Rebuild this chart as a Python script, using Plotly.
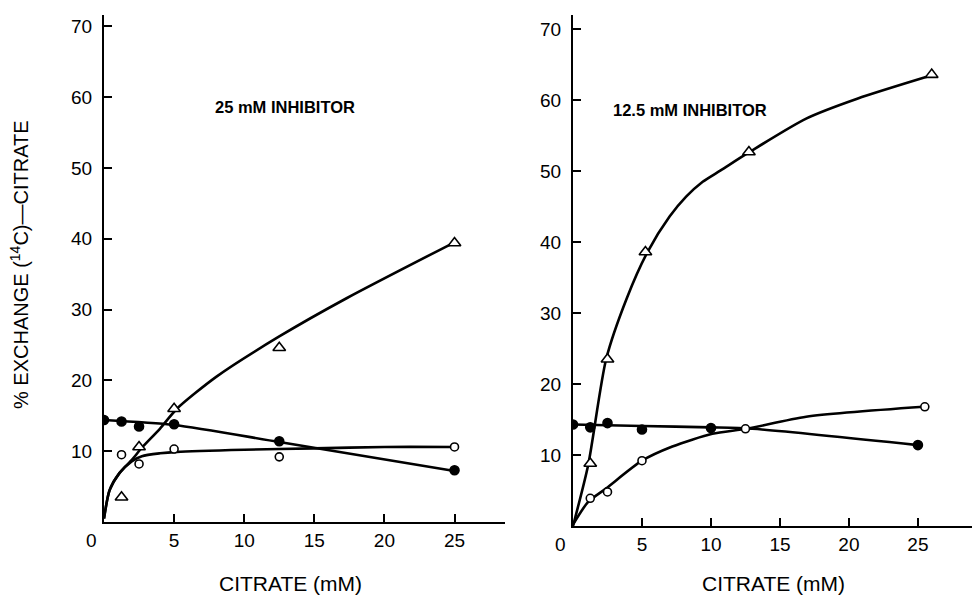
import plotly.graph_objects as go

# ---------------- data ----------------
# Left panel: 25 mM inhibitor
L_tri_x = [1.25, 2.5, 5, 12.5, 25]
L_tri_y = [3.5, 10.6, 16.0, 24.6, 39.4]
L_fill_x = [0, 1.25, 2.5, 5, 12.5, 25]
L_fill_y = [14.4, 14.2, 13.5, 13.8, 11.4, 7.3]
L_open_x = [1.25, 2.5, 5, 12.5, 25]
L_open_y = [9.5, 8.2, 10.3, 9.2, 10.6]
# fitted curves (as drawn)
L_tri_cx = [0, 0.4, 1.1, 2.0, 2.7, 4.0, 5.2, 8, 12.5, 17.3, 25]
L_tri_cy = [0.5, 4.5, 6.9, 8.8, 10.5, 13.2, 16.0, 20.5, 26.2, 31.6, 39.5]
L_open_cx = [0, 0.4, 1.1, 2.0, 2.7, 4.0, 5.2, 10, 15, 20, 25]
L_open_cy = [0.5, 4.5, 6.9, 8.6, 9.3, 9.7, 9.9, 10.2, 10.4, 10.6, 10.6]
L_fill_cx = [0, 5, 12.5, 25]
L_fill_cy = [14.4, 13.7, 11.3, 7.2]

# Right panel: 12.5 mM inhibitor
R_tri_x = [1.25, 2.5, 5.25, 12.75, 26]
R_tri_y = [8.8, 23.5, 38.6, 52.7, 63.6]
R_fill_x = [0, 1.25, 2.5, 5, 10, 25]
R_fill_y = [14.3, 13.9, 14.5, 13.6, 13.8, 11.4]
R_open_x = [1.25, 2.5, 5, 12.5, 25.5]
R_open_y = [3.9, 4.8, 9.2, 13.7, 16.8]
R_tri_cx = [0, 1.1, 2.4, 3.9, 5.4, 7.0, 8.2, 9.4, 10.7, 12.8, 16.9, 20.6, 26]
R_tri_cy = [0, 8.6, 23.5, 32.1, 38.6, 43.6, 46.4, 48.5, 50.1, 52.7, 57.4, 60.2, 63.5]
R_open_cx = [0, 1.1, 2.4, 5, 7.2, 10.1, 12.6, 16.9, 25.4]
R_open_cy = [0.2, 3.4, 5.3, 9.2, 11.2, 13.0, 13.7, 15.4, 16.8]
R_fill_cx = [0, 5, 10, 13, 25]
R_fill_cy = [14.3, 14.1, 13.9, 13.7, 11.4]

x_ticks = [5, 10, 15, 20, 25]
y_ticks = [10, 20, 30, 40, 50, 60, 70]
x_title = "CITRATE (mM)"
y_title = "% EXCHANGE (<sup>14</sup>C)—CITRATE"
panel_labels = ["25 mM INHIBITOR", "12.5 mM INHIBITOR"]

# ---------------- figure ----------------
fig = go.Figure()
FONT = "Liberation Sans, Arial, sans-serif"
LW = 2.6


def add_panel(xa, ya, curves, markers):
    for cx, cy in curves:
        fig.add_trace(go.Scatter(x=cx, y=cy, mode="lines", xaxis=xa, yaxis=ya,
                                 line=dict(color="black", width=LW, shape="spline", smoothing=0.7),
                                 hoverinfo="skip", showlegend=False))
    for mx, my, sym, size, filled in markers:
        fig.add_trace(go.Scatter(x=mx, y=my, mode="markers", xaxis=xa, yaxis=ya,
                                 marker=dict(symbol=sym, size=size,
                                             color="black" if filled else "white",
                                             line=dict(color="black", width=1.6)),
                                 showlegend=False))


add_panel("x", "y",
          [(L_tri_cx, L_tri_cy), (L_open_cx, L_open_cy), (L_fill_cx, L_fill_cy)],
          [(L_tri_x, L_tri_y, "triangle-up", 11, False),
           (L_open_x, L_open_y, "circle", 8, False),
           (L_fill_x, L_fill_y, "circle", 9, True)])
add_panel("x2", "y2",
          [(R_tri_cx, R_tri_cy), (R_open_cx, R_open_cy), (R_fill_cx, R_fill_cy)],
          [(R_tri_x, R_tri_y, "triangle-up", 11, False),
           (R_open_x, R_open_y, "circle", 8, False),
           (R_fill_x, R_fill_y, "circle", 9, True)])

# page body has an 8px margin: work in page pixels and shift by OFF
OFF = 8
W, H = 980 - OFF, 596 - OFF


def px(v):
    return (v - OFF) / W


def py(v):
    return 1 - (v - OFF) / H


axis_common = dict(showline=True, linecolor="black", linewidth=2, ticks="inside",
                   ticklen=8, tickwidth=1.5, tickcolor="black", showgrid=False,
                   zeroline=False, tickfont=dict(family=FONT, size=19, color="black"),
                   fixedrange=True)

fig.update_layout(
    width=W, height=H, margin=dict(l=0, r=0, t=0, b=0),
    paper_bgcolor="white", plot_bgcolor="white",
    font=dict(family=FONT, size=18, color="black"),
    xaxis=dict(axis_common, domain=[px(104), px(505)], range=[0, 28.6],
               tickvals=x_ticks, anchor="y"),
    yaxis=dict(axis_common, domain=[py(522), py(15)], range=[0, 71.6],
               tickvals=y_ticks, anchor="x", ticklabelstandoff=6),
    xaxis2=dict(axis_common, domain=[px(573), 1.0], range=[0, 29.5],
                tickvals=x_ticks, anchor="y2"),
    yaxis2=dict(axis_common, domain=[py(526), py(15)], range=[0, 72],
                tickvals=y_ticks, anchor="x2", ticklabelstandoff=6),
)

ann = []
# corner zeros
for xr, yr in (("x", "y"), ("x2", "y2")):
    ann.append(dict(text="0", x=0, y=0, xref=xr, yref=yr, showarrow=False,
                    xanchor="right", yanchor="top", xshift=-5, yshift=-6,
                    font=dict(family=FONT, size=19)))
# panel labels
ann.append(dict(text="<b>" + panel_labels[0] + "</b>", x=12.9, y=58.6, xref="x", yref="y",
                showarrow=False, xanchor="center", yanchor="middle",
                font=dict(family=FONT, size=16.5)))
ann.append(dict(text="<b>" + panel_labels[1] + "</b>", x=8.5, y=58.6, xref="x2", yref="y2",
                showarrow=False, xanchor="center", yanchor="middle",
                font=dict(family=FONT, size=16.5)))
# axis titles
ann.append(dict(text=x_title, x=px(290), y=py(583), xref="paper", yref="paper",
                showarrow=False, xanchor="center", yanchor="middle",
                font=dict(family=FONT, size=21)))
ann.append(dict(text=x_title, x=px(773), y=py(583), xref="paper", yref="paper",
                showarrow=False, xanchor="center", yanchor="middle",
                font=dict(family=FONT, size=21)))
ann.append(dict(text=y_title, x=px(19), y=py(265), xref="paper", yref="paper",
                showarrow=False, textangle=-90, xanchor="center", yanchor="middle",
                font=dict(family=FONT, size=20)))
fig.update_layout(annotations=ann)

fig.write_html("out.html")
